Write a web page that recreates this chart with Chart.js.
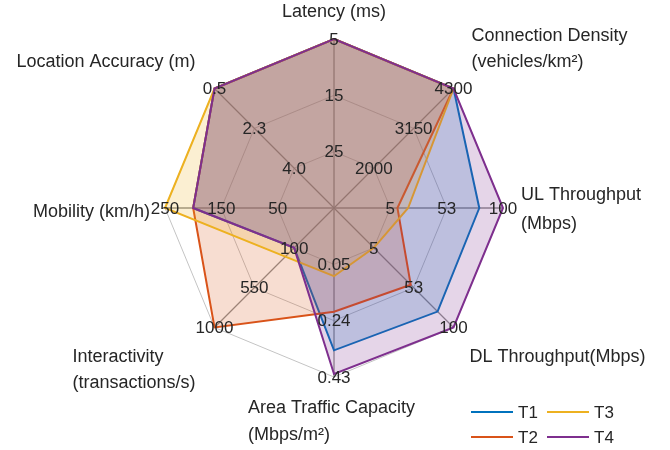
<!DOCTYPE html>
<html>
<head>
<meta charset="utf-8">
<script src="https://cdn.jsdelivr.net/npm/chart.js@4.4.1/dist/chart.umd.min.js"></script>
<style>
  html, body { margin: 0; padding: 0; background: #ffffff; }
  #wrap { width: 670px; height: 450px; position: relative; }
</style>
</head>
<body>
<div id="wrap"><canvas id="c" width="670" height="450"></canvas></div>
<script>
// ---------- DATA ----------
const axisNames = [
  ["Latency (ms)"],
  ["Connection Density", "(vehicles/km²)"],
  ["UL Throughput", "(Mbps)"],
  ["DL Throughput(Mbps)"],
  ["Area Traffic Capacity", "(Mbps/m²)"],
  ["Interactivity", "(transactions/s)"],
  ["Mobility (km/h)"],
  ["Location Accuracy (m)"]
];
// value shown on the innermost ring and on the outer ring of each axis
const axisInner = [25, 2000, 5, 5, 0.05, 100, 50, 4.0];
const axisOuter = [5, 4300, 100, 100, 0.43, 1000, 250, 0.5];
// ring tick labels (inner -> outer)
const tickLabels = [
  ["25", "15", "5"],
  ["2000", "3150", "4300"],
  ["5", "53", "100"],
  ["5", "53", "100"],
  ["0.05", "0.24", "0.43"],
  ["100", "550", "1000"],
  ["50", "150", "250"],
  ["4.0", "2.3", "0.5"]
];
const seriesNames = ["T1", "T2", "T3", "T4"];
const T1 = [5, 4300, 80, 81, 0.34, 100, 200, 0.5];
const T2 = [5, 4300, 11, 49, 0.21, 1000, 200, 0.5];
const T3 = [5, 4300, 20, 5, 0.09, 200, 250, 0.5];
const T4 = [5, 4300, 100, 100, 0.42, 100, 200, 0.5];
const seriesValues = [T1, T2, T3, T4];

// ---------- STYLE ----------
const lineColors = ["#0072BD", "#D95319", "#EDB120", "#7E2F8E"];
const fillColors = ["rgba(0,114,189,0.2)", "rgba(217,83,25,0.2)", "rgba(237,177,32,0.2)", "rgba(126,47,142,0.2)"];
const FONT = '"Liberation Sans", Arial, Helvetica, sans-serif';
const TEXT_COLOR = "#262626";

// label placement relative to the outer vertex of each axis: [dx, dy(first line), align, lineGap]
const labelPlace = [
  [0, -27, "center", 26],
  [18, -52, "left", 26],
  [18, -13, "left", 29],
  [16, 30, "left", 26],
  [-86, 31, "left", 27],
  [-142, 30, "left", 26],
  [-15, 4, "right", 26],
  [-19, -26, "right", 26]
];

// map a raw value onto the radial scale: inner ring = 1, outer ring = 3
function toRadial(v, i) {
  return 1 + 2 * (v - axisInner[i]) / (axisOuter[i] - axisInner[i]);
}

const datasets = seriesValues.map((vals, s) => ({
  label: seriesNames[s],
  data: vals.map((v, i) => toRadial(v, i)),
  borderColor: lineColors[s],
  backgroundColor: fillColors[s],
  borderWidth: 2,
  pointRadius: 0,
  pointHoverRadius: 0,
  fill: true,
  tension: 0,
  order: seriesValues.length - 1 - s
}));

const textPlugin = {
  id: "spiderText",
  afterDatasetsDraw(chart) {
    const s = chart.scales.r;
    const ctx = chart.ctx;
    ctx.save();
    ctx.fillStyle = TEXT_COLOR;
    // ring tick labels
    ctx.font = "17px " + FONT;
    ctx.textAlign = "center";
    ctx.textBaseline = "middle";
    tickLabels.forEach((labels, i) => {
      labels.forEach((t, k) => {
        const p = s.getPointPosition(i, s.getDistanceFromCenterForValue(k + 1));
        ctx.fillText(t, p.x, p.y + 1);
      });
    });
    // axis titles
    ctx.font = "18px " + FONT;
    axisNames.forEach((lines, i) => {
      const v = s.getPointPosition(i, s.drawingArea);
      const [dx, dy, align, gap] = labelPlace[i];
      ctx.textAlign = align;
      lines.forEach((line, j) => {
        ctx.fillText(line, v.x + dx, v.y + dy + j * gap);
      });
    });
    ctx.restore();
  },
  afterDraw(chart) {
    // legend, 2 columns x 2 rows: T1 T3 / T2 T4
    const ctx = chart.ctx;
    ctx.save();
    ctx.font = "17px " + FONT;
    ctx.textAlign = "left";
    ctx.textBaseline = "middle";
    const cols = [471, 547];
    const rows = [412, 437];
    const slots = [[0, 0], [0, 1], [1, 0], [1, 1]]; // [col,row] for T1..T4
    seriesNames.forEach((name, k) => {
      const x = cols[slots[k][0]];
      const y = rows[slots[k][1]];
      ctx.strokeStyle = lineColors[k];
      ctx.lineWidth = 2;
      ctx.beginPath();
      ctx.moveTo(x, y);
      ctx.lineTo(x + 42, y);
      ctx.stroke();
      ctx.fillStyle = TEXT_COLOR;
      ctx.fillText(name, x + 47, y + 1);
    });
    ctx.restore();
  }
};

new Chart(document.getElementById("c"), {
  type: "radar",
  data: { labels: axisNames.map(a => a.join(" ")), datasets },
  options: {
    responsive: false,
    animation: false,
    layout: { padding: { left: 165, right: 167, top: 39, bottom: 73 } },
    plugins: { legend: { display: false }, tooltip: { enabled: false } },
    elements: { line: { borderJoinStyle: "miter" } },
    scales: {
      r: {
        min: 0,
        max: 3,
        ticks: { display: false, stepSize: 1 },
        pointLabels: { display: false },
        grid: { color: "#c4c4c4", lineWidth: 1 },
        angleLines: { color: "#8f8f8f", lineWidth: 1.3 }
      }
    }
  },
  plugins: [textPlugin]
});
</script>
</body>
</html>
